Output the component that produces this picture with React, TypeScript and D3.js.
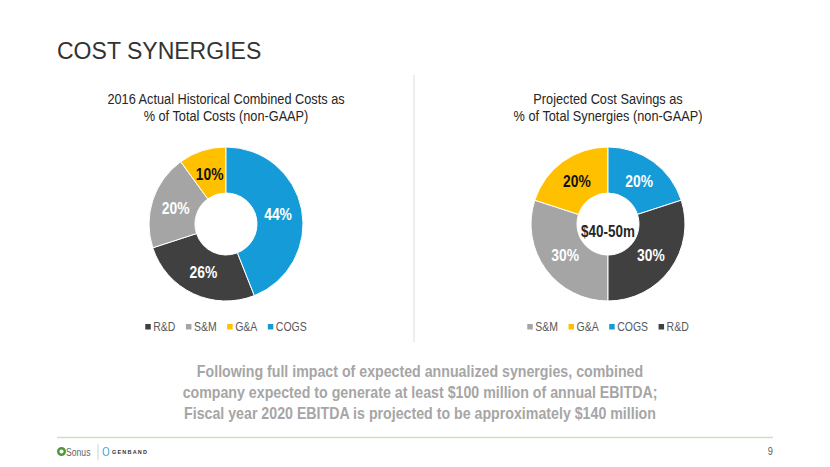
import React, { useEffect, useRef } from "react";
import * as d3 from "d3";

const leftCategories = ["R&D", "S&M", "G&A", "COGS"];
const leftValues = [26, 20, 10, 44];
const leftTitle = ["2016 Actual Historical Combined Costs as", "% of Total Costs (non-GAAP)"];

const rightCategories = ["S&M", "G&A", "COGS", "R&D"];
const rightValues = [30, 20, 20, 30];
const rightTitle = ["Projected Cost Savings as", "% of Total Synergies (non-GAAP)"];
const rightCenterLabel = "$40-50m";

const pageTitle = "COST SYNERGIES";
const footnote = [
  "Following full impact of expected annualized synergies, combined",
  "company expected to generate at least $100 million of annual EBITDA;",
  "Fiscal year 2020 EBITDA is projected to be approximately $140 million",
];
const pageNumber = "9";

const COLORS: Record<string, string> = {
  "R&D": "#404040",
  "S&M": "#a5a5a5",
  "G&A": "#ffc000",
  COGS: "#159bd7",
};
const LABEL_COLORS: Record<string, string> = {
  "R&D": "#ffffff",
  "S&M": "#ffffff",
  "G&A": "#111111",
  COGS: "#ffffff",
};

const FONT = "'Liberation Sans', Arial, sans-serif";
const NARROW = 0.84;

type Sel = d3.Selection<any, any, any, any>;

function addText(
  parent: Sel,
  x: number,
  y: number,
  txt: string,
  o: { size: number; fill: string; weight?: string; anchor?: string; sx?: number }
) {
  const g = parent.append("g").attr("transform", `translate(${x},${y}) scale(${o.sx ?? NARROW},1)`);
  const t = g.append("text")
    .attr("x", 0).attr("y", 0)
    .attr("text-anchor", o.anchor ?? "start")
    .attr("font-family", FONT)
    .attr("font-size", o.size)
    .attr("font-weight", o.weight ?? "normal")
    .attr("fill", o.fill)
    .text(txt);
  return { g, t };
}

export default function App() {
  const ref = useRef<SVGSVGElement | null>(null);

  useEffect(() => {
    const svg = d3.select(ref.current) as Sel;
    svg.selectAll("*").remove();

    // Title
    addText(svg, 57, 59, pageTitle, { size: 24.5, fill: "#333333", sx: 0.94 });

    // Divider
    svg.append("line")
      .attr("x1", 414).attr("x2", 414).attr("y1", 75).attr("y2", 342)
      .attr("stroke", "#e8e8e8").attr("stroke-width", 1.5);

    const outerR = 77;
    const innerR = 31;
    const cy = 224;

    function drawDonut(cx: number, cats: string[], vals: number[], title: string[], centerLabel?: string) {
      const g = svg.append("g") as Sel;
      title.forEach((t, i) => {
        addText(g, cx, 104 + i * 16.5, t, { size: 15, fill: "#262626", anchor: "middle", sx: 0.85 });
      });
      const total = d3.sum(vals);
      const cogsIdx = cats.indexOf("COGS");
      const before = d3.sum(vals.slice(0, cogsIdx));
      const start = -(before / total) * 2 * Math.PI;
      const data = cats.map((c, i) => ({ cat: c, value: vals[i] }));
      const pie = d3.pie<{ cat: string; value: number }>()
        .sort(null)
        .value((d) => d.value)
        .startAngle(start)
        .endAngle(start + 2 * Math.PI);
      const arcs = pie(data);
      const arc = d3.arc<d3.PieArcDatum<{ cat: string; value: number }>>()
        .innerRadius(innerR).outerRadius(outerR);
      const labelArc = d3.arc<d3.PieArcDatum<{ cat: string; value: number }>>()
        .innerRadius(53).outerRadius(53);
      const dg = g.append("g").attr("transform", `translate(${cx},${cy})`) as Sel;
      dg.selectAll("path.slice").data(arcs).enter().append("path")
        .attr("class", "slice")
        .attr("d", arc as any)
        .attr("fill", (d: any) => COLORS[d.data.cat])
        .attr("stroke", "#ffffff").attr("stroke-width", 1);
      arcs.forEach((d) => {
        const [x, y] = labelArc.centroid(d);
        addText(dg, x, y + 6, `${d.data.value}%`, {
          size: 16.5, fill: LABEL_COLORS[d.data.cat], weight: "bold", anchor: "middle", sx: 0.84,
        });
      });
      if (centerLabel) {
        addText(dg, 0, 12.5, centerLabel, { size: 16, fill: "#262626", weight: "bold", anchor: "middle", sx: 0.84 });
      }

      // Legend
      const lg = g.append("g") as Sel;
      const items = cats.map((c) => {
        const ig = lg.append("g") as Sel;
        ig.append("rect").attr("x", 0).attr("y", -7).attr("width", 5.5).attr("height", 5.5)
          .attr("fill", COLORS[c]);
        const { t } = addText(ig, 8, 0, c, { size: 12.5, fill: "#595959", sx: 0.84 });
        const w = 8 + (t.node() as SVGTextElement).getComputedTextLength() * 0.84;
        return { ig, w };
      });
      const gap = 10.5;
      const totalW = d3.sum(items, (d) => d.w) + gap * (items.length - 1);
      let x = cx - totalW / 2;
      items.forEach((it) => {
        it.ig.attr("transform", `translate(${x},331)`);
        x += it.w + gap;
      });
    }

    drawDonut(226, leftCategories, leftValues, leftTitle);
    drawDonut(608, rightCategories, rightValues, rightTitle, rightCenterLabel);

    // Footnote
    footnote.forEach((t, i) => {
      addText(svg, 420, 377 + i * 21, t, { size: 17, fill: "#a6a6a6", weight: "bold", anchor: "middle", sx: 0.835 });
    });

    // Footer
    svg.append("line")
      .attr("x1", 57).attr("x2", 773).attr("y1", 437.5).attr("y2", 437.5)
      .attr("stroke", "#c9e3bd").attr("stroke-width", 1.5);

    // Sonus logo
    const logo = svg.append("g") as Sel;
    logo.append("circle").attr("cx", 61.5).attr("cy", 451.5).attr("r", 3.3)
      .attr("fill", "none").attr("stroke", "#4a9a3a").attr("stroke-width", 2.4);
    addText(logo, 66, 455.5, "Sonus", { size: 11.5, fill: "#666666", sx: 0.75 });
    logo.append("line").attr("x1", 98).attr("x2", 98).attr("y1", 444).attr("y2", 460)
      .attr("stroke", "#d0d0d0").attr("stroke-width", 1);
    logo.append("ellipse").attr("cx", 106).attr("cy", 451.5).attr("rx", 2.8).attr("ry", 4)
      .attr("fill", "none").attr("stroke", "#5aaee0").attr("stroke-width", 1.2);
    addText(logo, 112, 453.5, "GENBAND", { size: 5.5, fill: "#333333", weight: "bold", sx: 1 })
      .t.attr("letter-spacing", 1.2);

    addText(svg, 773, 455, pageNumber, { size: 11, fill: "#595959", anchor: "end", sx: 0.84 });
  }, []);

  return (
    <svg
      ref={ref}
      width={830}
      height={467}
      style={{ position: "absolute", left: 0, top: 0, background: "#ffffff" }}
    />
  );
}
